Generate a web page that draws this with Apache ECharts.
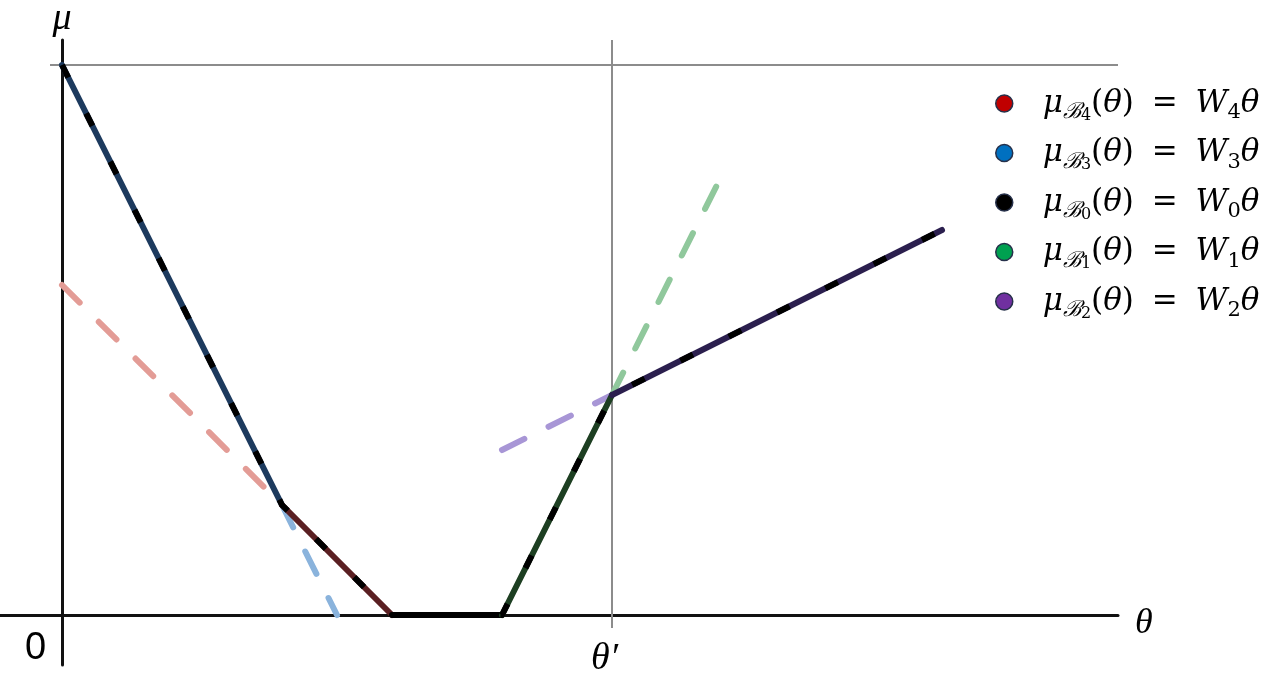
<!DOCTYPE html>
<html>
<head>
<meta charset="utf-8">
<script src="https://cdn.jsdelivr.net/npm/echarts@6/dist/echarts.min.js"></script>
<style>
  html, body { margin: 0; padding: 0; background: #fff; }
  #chart { width: 1275px; height: 677px; }
</style>
</head>
<body>
<div id="chart"></div>
<script>
// reference values
const thetaPrime = 10;
const muTop = 10;

// optimal (lower envelope) pieces
const b3Solid = [[0, 10], [4, 2]];
const b4Solid = [[4, 2], [6, 0]];
const b0Solid = [[6, 0], [8, 0]];
const b1Solid = [[8, 0], [10, 4]];
const b2Solid = [[10, 4], [16, 7]];
const envelope = [[0, 10], [4, 2], [6, 0], [8, 0], [10, 4], [16, 7]];

// non-optimal continuations (faded, dashed)
const b4Faded = [[0, 6], [4, 2]];
const b3Faded = [[4, 2], [5, 0]];
const b2Faded = [[8, 3], [10, 4]];
const b1Faded = [[10, 4], [12, 8]];

// legend
const legendNames = ['B4', 'B3', 'B0', 'B1', 'B2'];
const legendColors = ['#c00000', '#0070c0', '#000000', '#00a050', '#7030a0'];

// axis extents (55 px per unit)
const xMin = -62 / 55, xMax = 1056 / 55;
const yMin = -50 / 55, yMax = 575 / 55;

function seg(data, color, width, dash, cap, z) {
  return {
    type: 'line',
    data: data,
    showSymbol: false,
    silent: true,
    z: z,
    lineStyle: { color: color, width: width, type: dash || 'solid', cap: cap || 'round', join: 'round' }
  };
}

let series = [
  // grey reference lines
  seg([[-12 / 55, muTop], [xMax, muTop]], '#8c8c8c', 2, 'solid', 'butt', 1),
  seg([[thetaPrime, yMax], [thetaPrime, -13 / 55]], '#8c8c8c', 2, 'solid', 'butt', 1),

  seg(b4Faded, '#e39c96', 6, [25, 27], 'round', 2),
  seg(b3Faded, '#8ab3dc', 6, [25, 27], 'round', 2),
  seg(b2Faded, '#a896d6', 6, [25, 27], 'round', 2),
  seg(b1Faded, '#90c89c', 6, [25, 27], 'round', 2),

  seg(b3Solid, '#1c3a5e', 6, 'solid', 'round', 3),
  seg(b4Solid, '#5a1f22', 6, 'solid', 'round', 3),
  seg(b0Solid, '#000000', 6, 'solid', 'round', 3),
  seg(b1Solid, '#1d3f22', 6, 'solid', 'round', 3),
  seg(b2Solid, '#2b1f4e', 6, 'solid', 'round', 3),
  seg(envelope, '#000000', 6, [14, 40], 'butt', 4)
];

legendNames.forEach(function (n, i) {
  series.push({ type: 'line', name: n, data: [], color: legendColors[i] });
});

const chart = echarts.init(document.getElementById('chart'));
chart.setOption({
  animation: false,
  grid: { left: 0, right: 1275 - 1118, top: 40, bottom: 12, outerBoundsMode: 'none', containLabel: false },
  xAxis: {
    type: 'value',
    min: xMin,
    max: xMax,
    axisLine: { onZero: true, lineStyle: { color: '#111', width: 3 } },
    axisTick: { show: false },
    axisLabel: { show: false },
    splitLine: { show: false }
  },
  yAxis: {
    type: 'value',
    min: yMin,
    max: yMax,
    name: 'μ',
    nameLocation: 'end',
    nameGap: 2,
    nameTextStyle: { fontFamily: 'Liberation Serif', fontStyle: 'italic', fontSize: 38, color: '#000', align: 'center' },
    axisLine: { onZero: true, lineStyle: { color: '#111', width: 3 } },
    axisTick: { show: false },
    axisLabel: { show: false },
    splitLine: { show: false }
  },
  graphic: [
    { type: 'text', left: 1135, top: 606, style: { text: 'θ', font: 'italic 36px "Liberation Serif"', fill: '#000' } },
    { type: 'text', left: 25, top: 630, style: { text: '0', font: '38px "Liberation Sans"', fill: '#000' } },
    { type: 'text', left: 591, top: 640, style: { text: 'θ′', font: 'italic 38px "Liberation Serif"', fill: '#000' } }
  ],
  legend: {
    data: legendNames,
    orient: 'vertical',
    left: 995,
    top: 88,
    padding: 0,
    itemGap: 14,
    itemWidth: 17,
    itemHeight: 17,
    icon: 'circle',
    selectedMode: false,
    itemStyle: { borderColor: '#26304a', borderWidth: 1.5 },
    formatter: function (name) {
      const k = name.slice(1);
      return '{i|μ}{b|ℬ}{d|' + k + '}{n|(}{i|θ}{n|)}{e| = }{i|W}{s|' + k + '}{i|θ}';
    },
    textStyle: {
      padding: [0, 0, 0, 25],
      rich: {
        i: { fontFamily: 'DejaVu Serif', fontStyle: 'italic', fontSize: 31, lineHeight: 40, color: '#000' },
        n: { fontFamily: 'DejaVu Serif', fontSize: 31, lineHeight: 40, color: '#000' },
        e: { fontFamily: 'DejaVu Serif', fontSize: 31, lineHeight: 40, color: '#000', padding: [0, 8, 0, 8] },
        b: { fontFamily: 'DejaVu Serif', fontStyle: 'italic', fontSize: 22, lineHeight: 30, verticalAlign: 'bottom', color: '#000' },
        d: { fontFamily: 'DejaVu Serif', fontSize: 16, lineHeight: 18, verticalAlign: 'bottom', color: '#000' },
        s: { fontFamily: 'DejaVu Serif', fontSize: 21, lineHeight: 30, verticalAlign: 'bottom', color: '#000' }
      }
    }
  },
  series: series
});
</script>
</body>
</html>
